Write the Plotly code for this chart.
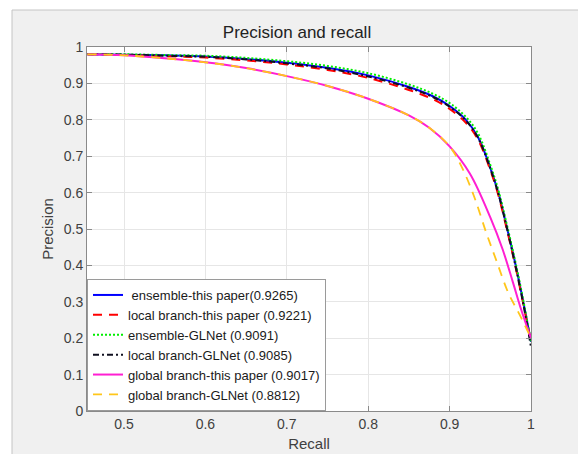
import plotly.graph_objects as go

# ---------------- data ----------------
recall_a = [0.455, 0.5, 0.55, 0.6, 0.65, 0.7, 0.75, 0.8, 0.85, 0.88, 0.9, 0.92, 0.935, 0.95, 0.96, 0.97, 0.98, 0.99, 1.0]
ens_this = [0.980, 0.979, 0.977, 0.974, 0.967, 0.957, 0.943, 0.922, 0.890, 0.864, 0.838, 0.800, 0.752, 0.668, 0.598, 0.508, 0.412, 0.305, 0.190]
loc_this = [0.980, 0.978, 0.975, 0.971, 0.963, 0.952, 0.937, 0.915, 0.882, 0.856, 0.830, 0.792, 0.745, 0.662, 0.592, 0.502, 0.406, 0.300, 0.190]
ens_glnet = [0.981, 0.980, 0.978, 0.976, 0.970, 0.961, 0.948, 0.928, 0.897, 0.871, 0.846, 0.808, 0.762, 0.676, 0.606, 0.515, 0.418, 0.310, 0.190]
loc_glnet = [0.980, 0.979, 0.976, 0.973, 0.966, 0.955, 0.941, 0.919, 0.888, 0.862, 0.836, 0.798, 0.750, 0.666, 0.596, 0.506, 0.408, 0.300, 0.176]

recall_g = [0.455, 0.5, 0.55, 0.6, 0.65, 0.7, 0.75, 0.8, 0.85, 0.875, 0.9, 0.925, 0.95, 0.965, 0.978, 0.988, 1.0]
glob_this = [0.980, 0.977, 0.969, 0.958, 0.942, 0.920, 0.893, 0.858, 0.812, 0.778, 0.727, 0.652, 0.532, 0.445, 0.352, 0.278, 0.200]

recall_y = [0.455, 0.5, 0.55, 0.6, 0.65, 0.7, 0.75, 0.8, 0.85, 0.875, 0.9, 0.915, 0.93, 0.945, 0.958, 0.972, 0.986, 1.0]
glob_glnet = [0.980, 0.977, 0.969, 0.958, 0.942, 0.920, 0.893, 0.858, 0.812, 0.778, 0.727, 0.670, 0.590, 0.490, 0.410, 0.325, 0.265, 0.200]

series_names = [
    " ensemble-this paper(0.9265)",
    "local branch-this paper (0.9221)",
    "ensemble-GLNet (0.9091)",
    "local branch-GLNet (0.9085)",
    "global branch-this paper (0.9017)",
    "global branch-GLNet (0.8812)",
]

x_tick_vals = [0.5, 0.6, 0.7, 0.8, 0.9, 1.0]
x_tick_text = ["0.5", "0.6", "0.7", "0.8", "0.9", "1"]
y_tick_vals = [0, 0.1, 0.2, 0.3, 0.4, 0.5, 0.6, 0.7, 0.8, 0.9, 1.0]
y_tick_text = ["0", "0.1", "0.2", "0.3", "0.4", "0.5", "0.6", "0.7", "0.8", "0.9", "1"]

title_text = "Precision and recall"
x_title = "Recall"
y_title = "Precision"

# ---------------- figure ----------------
styles = [
    dict(color="#0000ff", dash="solid", width=2),
    dict(color="#ff0000", dash="9px,7px", width=2),
    dict(color="#00ee00", dash="2px,2px", width=2),
    dict(color="#101020", dash="6px,3px,2px,3px", width=2),
    dict(color="#ff1fd2", dash="solid", width=2),
    dict(color="#ffc61a", dash="9px,7px", width=1.8),
]
xs = [recall_a, recall_a, recall_a, recall_a, recall_g, recall_y]
ys = [ens_this, loc_this, ens_glnet, loc_glnet, glob_this, glob_glnet]

fig = go.Figure()
for name, x, y, st in zip(series_names, xs, ys, styles):
    fig.add_trace(go.Scatter(x=x, y=y, mode="lines", name=name,
                             line=dict(shape="spline", smoothing=1.0, **st)))

# the page body adds an 8px offset; figure coordinates below are page - 8
OFF = 8
W, H = 586 - OFF, 454 - OFF
L, T = 87 - OFF, 47 - OFF
pw, ph = 444, 364
R, B = W - L - pw, H - T - ph

def px(xp):  # page pixel x -> paper coord
    return (xp - OFF - L) / pw

def py(yp):  # page pixel y -> paper coord
    return (T + ph - (yp - OFF)) / ph

shapes = [
    dict(type="rect", xref="paper", yref="paper", x0=px(-5), x1=px(12), y0=py(470), y1=py(-5),
         fillcolor="white", line=dict(width=0), layer="below"),
    dict(type="rect", xref="paper", yref="paper", x0=px(-5), x1=px(600), y0=py(10), y1=py(-5),
         fillcolor="white", line=dict(width=0), layer="below"),
    dict(type="line", xref="paper", yref="paper", x0=px(12), x1=px(12), y0=py(470), y1=py(10),
         line=dict(color="#c4c4c4", width=1)),
    dict(type="line", xref="paper", yref="paper", x0=px(12), x1=px(600), y0=py(10), y1=py(10),
         line=dict(color="#c4c4c4", width=1)),
]

FONT = "Liberation Sans, Arial, sans-serif"
axis_common = dict(
    showline=True, linecolor="#8a8a8a", linewidth=1, mirror="ticks",
    ticks="inside", ticklen=5, tickcolor="#8a8a8a",
    showgrid=True, gridcolor="#e6e6e6", gridwidth=1,
    zeroline=False,
    tickfont=dict(family=FONT, size=14, color="#404040"),
)

fig.update_layout(
    width=W, height=H,
    margin=dict(l=L, r=R, t=T, b=B, pad=0),
    paper_bgcolor="#f0f0f0",
    plot_bgcolor="white",
    shapes=shapes,
    title=dict(text=title_text, x=px(309), xanchor="center", y=1 - (32 - OFF) / H, yanchor="middle",
               font=dict(family=FONT, size=17, color="#222222")),
    xaxis=dict(range=[0.4545, 1.0], tickvals=x_tick_vals, ticktext=x_tick_text,
               title=dict(text=x_title, standoff=7, font=dict(family=FONT, size=15, color="#404040")),
               automargin=False, **axis_common),
    yaxis=dict(range=[0, 1.0], tickvals=y_tick_vals, ticktext=y_tick_text,
               title=dict(text=y_title, standoff=6, font=dict(family=FONT, size=15, color="#404040")),
               automargin=False, **axis_common),
    legend=dict(x=0, y=0, xanchor="left", yanchor="bottom",
                bgcolor="white", bordercolor="#9a9a9a", borderwidth=1,
                font=dict(family=FONT, size=13, color="#1a1a1a"),
                itemwidth=30, tracegroupgap=0),
    showlegend=True,
)

fig.write_html("out.html")
